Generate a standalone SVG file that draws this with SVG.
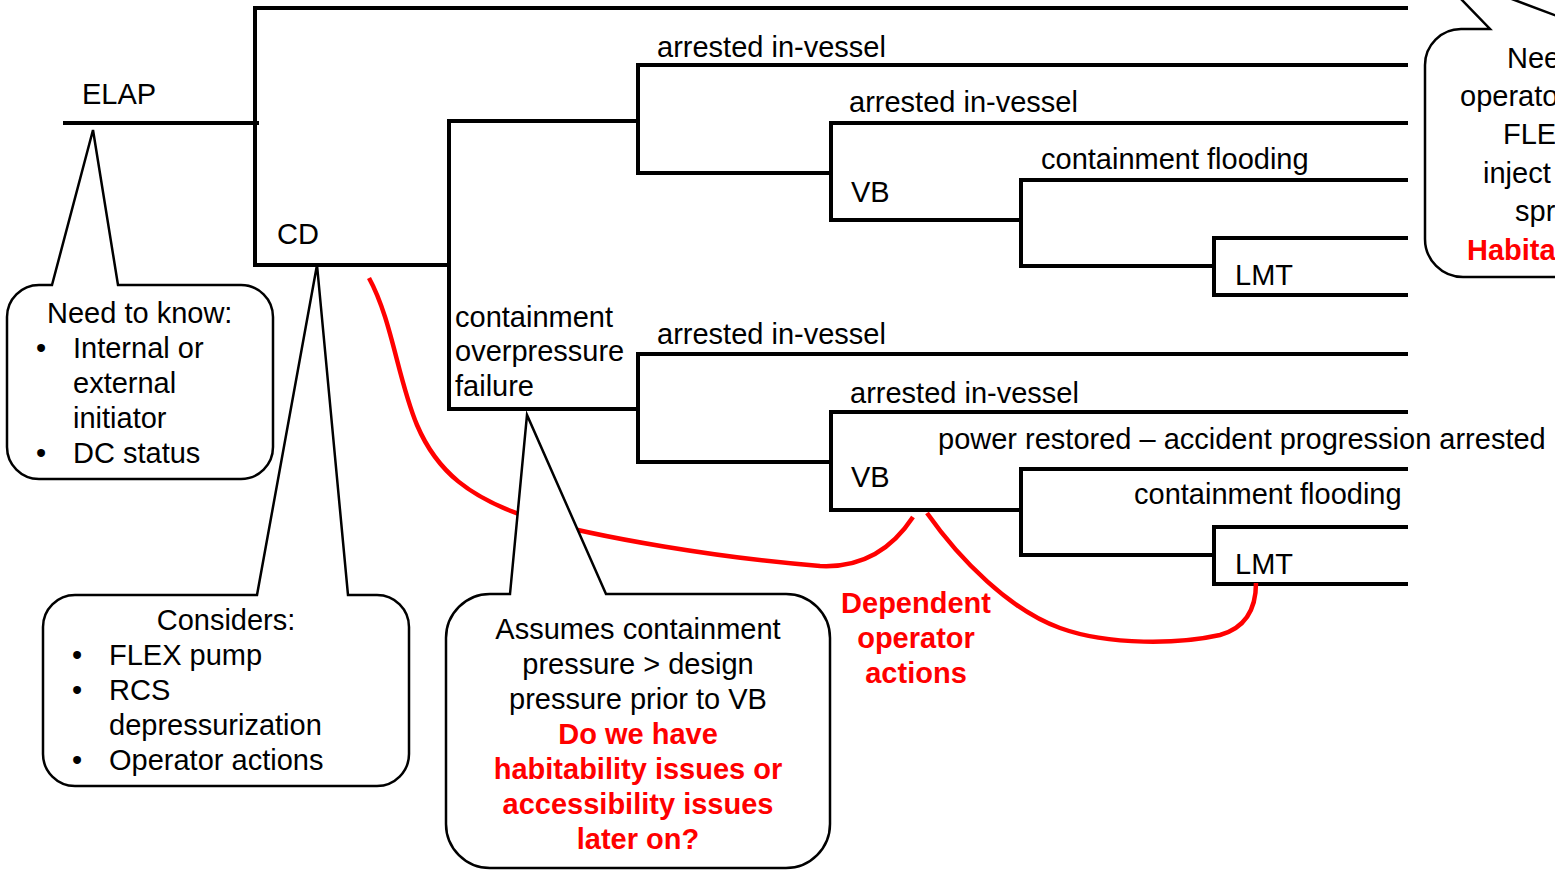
<svg xmlns="http://www.w3.org/2000/svg" width="1555" height="870" viewBox="0 0 1555 870">
<style>
text{font-family:"Liberation Sans",Arial,sans-serif;font-size:29px;fill:#000}
.red{fill:#ff0000;font-weight:bold}
.mid{text-anchor:middle}
.tree{fill:none;stroke:#000;stroke-width:4;stroke-linejoin:miter;stroke-linecap:square}
.call{fill:#fff;stroke:#000;stroke-width:2.5;stroke-linejoin:miter}
.dep{fill:none;stroke:#ff0000;stroke-width:4.5;stroke-linecap:butt}
</style>
<rect width="1555" height="870" fill="#fff"/>
<g id="connectors">
<path class="tree" d="M65,123 H257"/>
<path class="tree" d="M1406,8 H255 V265 H449"/>
<path class="tree" d="M638,121 H449 V409 H638"/>
<path class="tree" d="M1406,65 H638 V173 H831"/>
<path class="tree" d="M1406,123 H831 V220 H1021"/>
<path class="tree" d="M1406,180 H1021 V266 H1214"/>
<path class="tree" d="M1406,238 H1214 V295 H1406"/>
<path class="tree" d="M1406,354 H638 V462 H831"/>
<path class="tree" d="M1406,412 H831 V510 H1021"/>
<path class="tree" d="M1406,469 H1021 V555 H1214"/>
<path class="tree" d="M1406,527 H1214 V584 H1406"/>
<path class="dep" d="M369,278 C392,320 398,380 417,425 C437,472 470,498 530,518 C600,538 720,558 820,566 C860,568 890,552 913,517"/>
<path class="dep" d="M927,513 C960,560 1010,610 1060,628 C1110,646 1180,644 1220,635 C1245,628 1256,610 1256,583"/>
</g>
<g id="labels">
<text x="82" y="104">ELAP</text>
<text x="277" y="244">CD</text>
<text x="657" y="57">arrested in-vessel</text>
<text x="849" y="112">arrested in-vessel</text>
<text x="1041" y="169">containment flooding</text>
<text x="851" y="202">VB</text>
<text x="1235" y="285">LMT</text>
<text x="455" y="327">containment</text>
<text x="455" y="361">overpressure</text>
<text x="455" y="396">failure</text>
<text x="657" y="344">arrested in-vessel</text>
<text x="850" y="403">arrested in-vessel</text>
<text x="938" y="449">power restored – accident progression arrested</text>
<text x="851" y="487">VB</text>
<text x="1134" y="504">containment flooding</text>
<text x="1235" y="574">LMT</text>
</g>
<g id="need-to-know">
<path class="call" d="M52,285 L93,130 L118,285 L241,285 A32,32 0 0 1 273,317 L273,447 A32,32 0 0 1 241,479 L39,479 A32,32 0 0 1 7,447 L7,317 A32,32 0 0 1 39,285 Z"/>
<text x="47" y="323">Need to know:</text>
<text x="36" y="358">•</text><text x="73" y="358">Internal or</text>
<text x="73" y="393">external</text>
<text x="73" y="428">initiator</text>
<text x="36" y="463">•</text><text x="73" y="463">DC status</text>
</g>
<g id="considers">
<path class="call" d="M257,595 L317,265 L348,595 L377,595 A32,32 0 0 1 409,627 L409,754 A32,32 0 0 1 377,786 L75,786 A32,32 0 0 1 43,754 L43,627 A32,32 0 0 1 75,595 Z"/>
<text x="226" y="630" class="mid">Considers:</text>
<text x="72" y="665">•</text><text x="109" y="665">FLEX pump</text>
<text x="72" y="700">•</text><text x="109" y="700">RCS</text>
<text x="109" y="735">depressurization</text>
<text x="72" y="770">•</text><text x="109" y="770">Operator actions</text>
</g>
<g id="assumes">
<path class="call" d="M510,594 L527,415 L606,594 L786,594 A44,44 0 0 1 830,638 L830,824 A44,44 0 0 1 786,868 L490,868 A44,44 0 0 1 446,824 L446,638 A44,44 0 0 1 490,594 Z"/>
<text x="638" y="639" class="mid">Assumes containment</text>
<text x="638" y="674" class="mid">pressure &gt; design</text>
<text x="638" y="709" class="mid">pressure prior to VB</text>
<text x="638" y="744" class="mid red">Do we have</text>
<text x="638" y="779" class="mid red">habitability issues or</text>
<text x="638" y="814" class="mid red">accessibility issues</text>
<text x="638" y="849" class="mid red">later on?</text>
</g>
<g id="dependent">
<text x="916" y="613" class="mid red">Dependent</text>
<text x="916" y="648" class="mid red">operator</text>
<text x="916" y="683" class="mid red">actions</text>
</g>
<g id="need-operator">
<path class="call" d="M1565,19 L1432,-31 L1490,29 L1461,29 A36,36 0 0 0 1425,65 L1425,239 A38,38 0 0 0 1463,277 L1565,277"/>
<text x="1507" y="68">Nee</text>
<text x="1460" y="106">operato</text>
<text x="1503" y="144">FLE</text>
<text x="1483" y="183">inject</text>
<text x="1515" y="221">spr</text>
<text x="1467" y="260" class="red">Habita</text>
</g>
</svg>
